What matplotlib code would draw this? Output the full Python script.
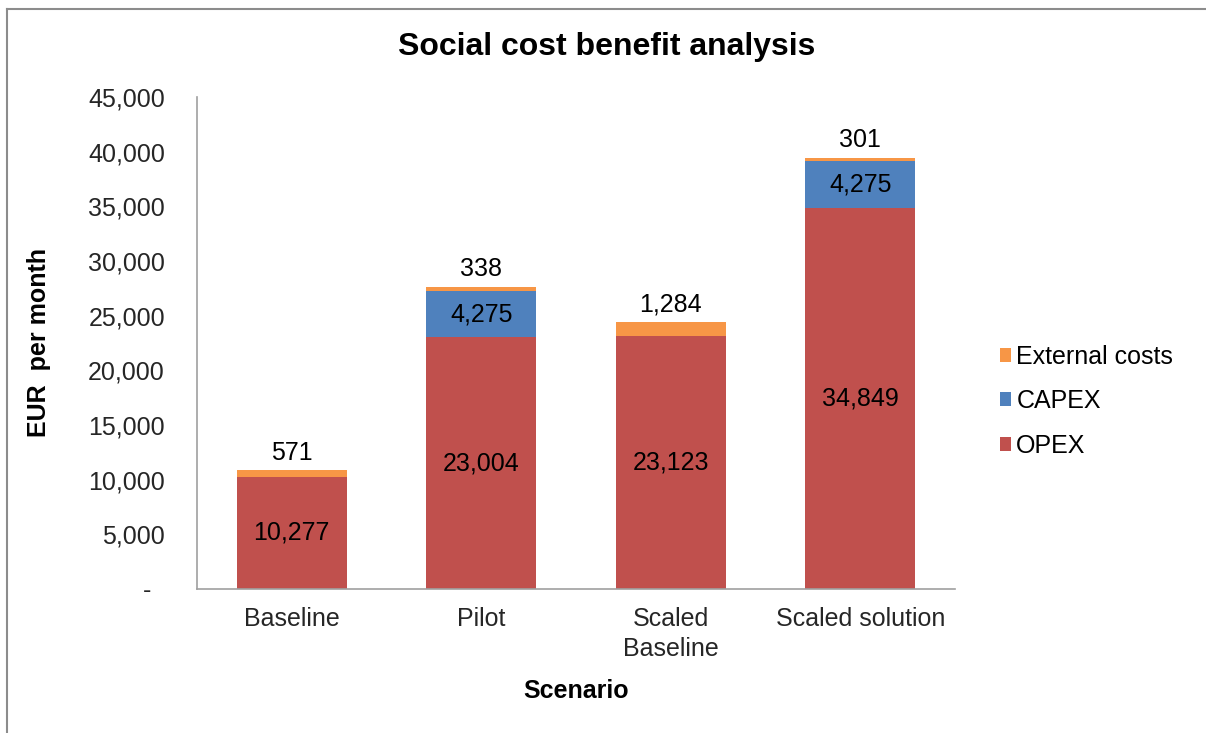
import numpy as np
import matplotlib
matplotlib.use("Agg")
import matplotlib.pyplot as plt
from matplotlib.lines import Line2D
from matplotlib.ticker import FuncFormatter

plt.rcParams['font.family'] = ['Liberation Sans', 'DejaVu Sans']

scenarios = ['Baseline', 'Pilot', 'Scaled\nBaseline', 'Scaled solution']
opex = [10277, 23004, 23123, 34849]
capex = [0, 4275, 0, 4275]
external = [571, 338, 1284, 301]

c_opex = '#C0504D'
c_capex = '#4F81BD'
c_ext = '#F79646'
fs = 18

fig = plt.figure(figsize=(12.06, 7.33), dpi=100)
ax = fig.add_axes([0.1633, 0.1965, 0.6286, 0.6712])

x = np.arange(len(scenarios))
w = 0.58
opex = np.array(opex)
capex = np.array(capex)
external = np.array(external)

b1 = ax.bar(x, opex, w, color=c_opex, label='OPEX')
b2 = ax.bar(x, capex, w, bottom=opex, color=c_capex, label='CAPEX')
b3 = ax.bar(x, external, w, bottom=opex + capex, color=c_ext, label='External costs')

for i in range(len(x)):
    ax.text(x[i], opex[i] / 2, f'{opex[i]:,}', ha='center', va='center', fontsize=fs, color='#000000')
    if capex[i] > 0:
        ax.text(x[i], opex[i] + capex[i] / 2, f'{capex[i]:,}', ha='center', va='center', fontsize=fs)
    top = opex[i] + capex[i] + external[i]
    ax.annotate(f'{external[i]:,}', (x[i], top), xytext=(0, 4), textcoords='offset points',
                ha='center', va='bottom', fontsize=fs)

ax.set_xlim(-0.5, len(x) - 0.5)
ax.set_ylim(0, 45000)
ax.set_yticks(np.arange(0, 45001, 5000))
ax.yaxis.set_major_formatter(FuncFormatter(lambda v, p: '-  ' if v == 0 else f'{int(v):,}'))
ax.set_xticks(x)
ax.set_xticklabels(scenarios, fontsize=fs, color='#262626', linespacing=1.33)
ax.tick_params(axis='y', labelsize=fs, labelcolor='#262626', length=0, pad=23)
ax.tick_params(axis='x', length=0, pad=13)

for s in ['top', 'right']:
    ax.spines[s].set_visible(False)
for s in ['left', 'bottom']:
    ax.spines[s].set_color('#A0A0A0')
    ax.spines[s].set_linewidth(1.2)

# title is centred on the whole chart, not the plot area
fig.text(0.503, 1 - 47 / 733, 'Social cost benefit analysis', fontsize=23, fontweight='bold',
         ha='center', va='center')
ax.set_ylabel('EUR  per month', fontsize=18, fontweight='bold', labelpad=27)
ax.set_xlabel('Scenario', fontsize=18, fontweight='bold', labelpad=13)

handles = [b3, b2, b1]
ax.legend(handles, ['External costs', 'CAPEX', 'OPEX'], loc='center left',
          bbox_to_anchor=(1.029, 0.382), frameon=False, fontsize=fs,
          handlelength=0.47, handleheight=0.47, handletextpad=0.2, labelspacing=0.82)

# outer chart frame
fig.add_artist(Line2D([7 / 1206, 7 / 1206], [0, 1 - 9 / 733], transform=fig.transFigure, color='#8C8C8C', lw=1.5))
fig.add_artist(Line2D([7 / 1206, 1], [1 - 9 / 733, 1 - 9 / 733], transform=fig.transFigure, color='#8C8C8C', lw=1.5))

fig.savefig('out.png', dpi=100)
